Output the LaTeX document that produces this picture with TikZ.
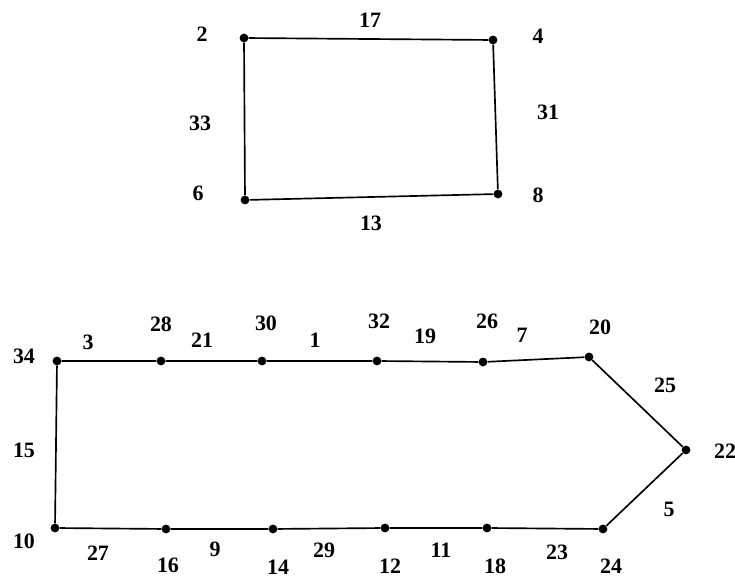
\documentclass[tikz,border=0pt]{standalone}
\usepackage{fontspec}
\setmainfont{Liberation Serif}
\usetikzlibrary{positioning}

\begin{document}
\begin{tikzpicture}[
    x=0.02cm, y=-0.02cm,
    vertex/.style={circle, fill=black, inner sep=0pt, minimum size=5pt},
    num/.style={inner sep=0pt, font=\fontsize{12.5}{14}\selectfont\bfseries},
    link/.style={draw, line width=0.95pt}
]
\useasboundingbox (0,0) rectangle (735,577);

% upper cycle
\node[vertex] (v2) at (244,38) {};
\node[vertex] (v4) at (493,40) {};
\node[vertex] (v6) at (245,200) {};
\node[vertex] (v8) at (498,194) {};

\node[num] (l2) at (202,34) {2};
\node[num] (l4) at (538,36) {4};
\node[num] (l6) at (198,193) {6};
\node[num] (l8) at (538,195) {8};

\draw[link] (v2) -- (v4) -- (v8) -- (v6) -- (v2);

\node[num] (e17) at (370,20) {17};
\node[num] (e31) at (548,112) {31};
\node[num] (e33) at (200,123) {33};
\node[num] (e13) at (371,223) {13};

% lower cycle
\node[vertex] (v34) at (57,361) {};
\node[vertex] (v28) at (161,361) {};
\node[vertex] (v30) at (262,361) {};
\node[vertex] (v32) at (377,361) {};
\node[vertex] (v26) at (483,362) {};
\node[vertex] (v20) at (589,357) {};
\node[vertex] (v22) at (686,450) {};
\node[vertex] (v24) at (603,529) {};
\node[vertex] (v18) at (487,528) {};
\node[vertex] (v12) at (385,528) {};
\node[vertex] (v14) at (273,529) {};
\node[vertex] (v16) at (166,529) {};
\node[vertex] (v10) at (55,528) {};

\node[num] (l34) at (24,356) {34};
\node[num] (l28) at (161,324) {28};
\node[num] (l30) at (266,323) {30};
\node[num] (l32) at (379,321) {32};
\node[num] (l26) at (487,321) {26};
\node[num] (l20) at (600,327) {20};
\node[num] (l22) at (725,451) {22};
\node[num] (l24) at (611,566) {24};
\node[num] (l18) at (495,566) {18};
\node[num] (l12) at (390,566) {12};
\node[num] (l14) at (278,567) {14};
\node[num] (l16) at (168,565) {16};
\node[num] (l10) at (24,541) {10};

\draw[link] (v34) -- (v28) -- (v30) -- (v32) -- (v26) -- (v20)
    -- (v22) -- (v24) -- (v18) -- (v12) -- (v14) -- (v16) -- (v10) -- (v34);

\node[num] (e3) at (88,342) {3};
\node[num] (e21) at (202,340) {21};
\node[num] (e1) at (315,340) {1};
\node[num] (e19) at (425,336) {19};
\node[num] (e7) at (522,335) {7};
\node[num] (e25) at (665,385) {25};
\node[num] (e5) at (669,509) {5};
\node[num] (e23) at (557,552) {23};
\node[num] (e11) at (441,550) {11};
\node[num] (e29) at (324,550) {29};
\node[num] (e9) at (215,549) {9};
\node[num] (e27) at (98,553) {27};
\node[num] (e15) at (24,450) {15};

\end{tikzpicture}
\end{document}
